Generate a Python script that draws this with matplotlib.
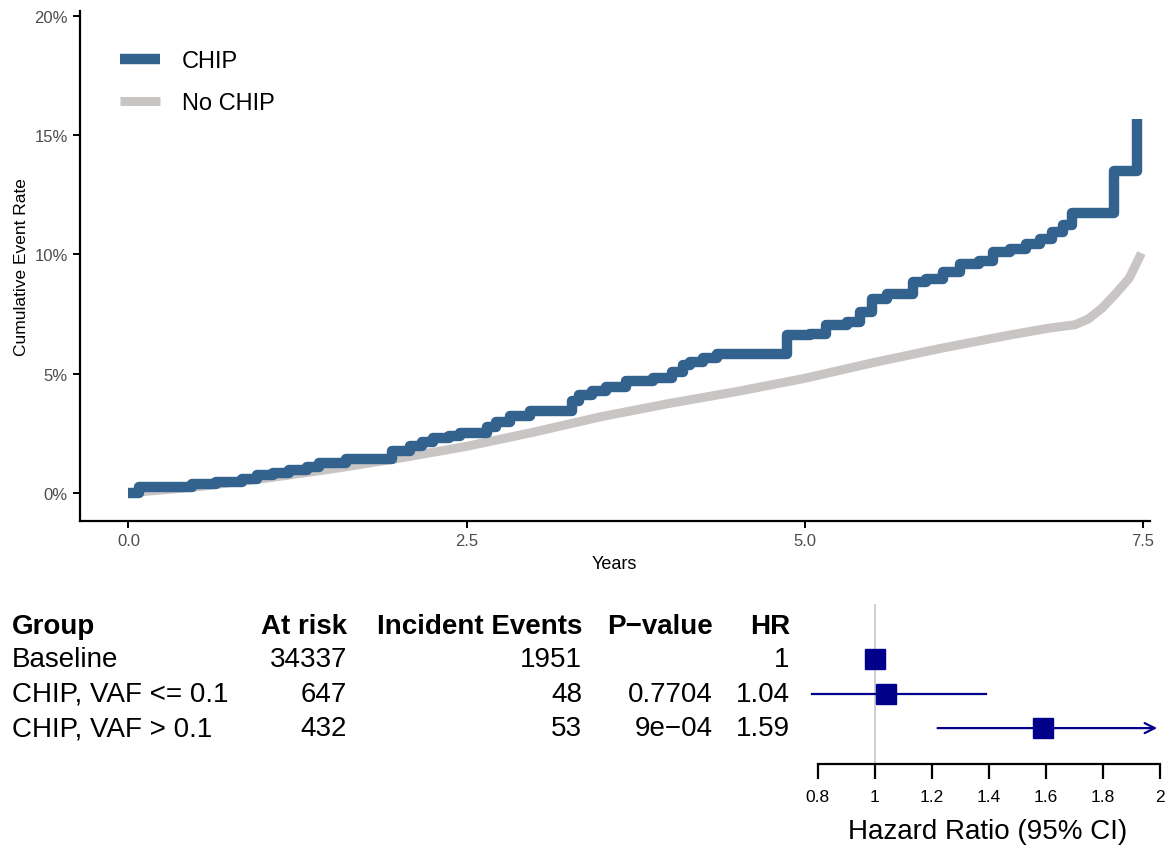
import numpy as np
import matplotlib
matplotlib.use("Agg")
import matplotlib.pyplot as plt
from matplotlib.ticker import FuncFormatter

plt.rcParams["font.family"] = ["Liberation Sans", "DejaVu Sans"]

# Kaplan-Meier Kurven
chip_years = [0.0, 0.08, 0.47, 0.65, 0.84, 0.95, 1.07, 1.19, 1.32, 1.41, 1.61, 1.95, 2.08, 2.17, 2.25, 2.37,
              2.45, 2.65, 2.72, 2.82, 2.97, 3.28, 3.33, 3.43, 3.53, 3.68, 3.88, 4.02, 4.10, 4.15, 4.25,
              4.35, 4.87, 5.04, 5.16, 5.31, 5.41, 5.50, 5.61, 5.80, 5.90, 6.02, 6.15, 6.29, 6.39, 6.52,
              6.64, 6.74, 6.83, 6.91, 6.98, 7.29, 7.455]
chip_pct = [0.0, 0.25, 0.38, 0.47, 0.59, 0.73, 0.84, 0.94, 1.09, 1.26, 1.43, 1.77, 1.95, 2.13, 2.29, 2.40,
            2.52, 2.75, 2.99, 3.22, 3.45, 3.85, 4.12, 4.29, 4.43, 4.71, 4.82, 5.06, 5.34, 5.48, 5.65,
            5.83, 6.60, 6.67, 7.02, 7.16, 7.58, 8.13, 8.34, 8.83, 8.97, 9.25, 9.60, 9.74, 10.09, 10.23,
            10.44, 10.65, 10.93, 11.21, 11.75, 13.50, 15.68]

nochip_years = [0.0, 0.5, 1.0, 1.5, 2.0, 2.5, 3.0, 3.5, 4.0, 4.5, 5.0, 5.5, 6.0, 6.5, 6.8, 7.0, 7.1, 7.2,
                7.3, 7.4, 7.49]
nochip_pct = [0.0, 0.25, 0.6, 1.0, 1.45, 1.95, 2.55, 3.2, 3.75, 4.25, 4.8, 5.45, 6.05, 6.6, 6.9, 7.05,
              7.3, 7.75, 8.35, 9.0, 10.05]

# Tabelle / Forest Plot
groups = ["Baseline", "CHIP, VAF <= 0.1", "CHIP, VAF > 0.1"]
at_risk = ["34337", "647", "432"]
events = ["1951", "48", "53"]
pvals = ["", "0.7704", "9e\u221204"]
hr = [1.0, 1.04, 1.59]
hr_lab = ["1", "1.04", "1.59"]
ci_low = [None, 0.78, 1.21]
ci_high = [None, 1.39, 2.09]

blue = "#33628f"
grey = "#c9c5c5"

fig = plt.figure(figsize=(11.73, 8.54), dpi=100)

# --- KM Plot
ax = fig.add_axes([0.068, 0.389, 0.912, 0.597])
ax.plot(nochip_years, nochip_pct, color=grey, lw=6.5, label="No CHIP", solid_capstyle="butt")
ax.step(chip_years, chip_pct, where="post", color=blue, lw=7.5, label="CHIP",
        solid_joinstyle="round", solid_capstyle="butt")
ax.set_xlim(-0.36, 7.55)
ax.set_ylim(-1.17, 20.2)
ax.set_xticks([0, 2.5, 5.0, 7.5])
ax.set_xticklabels(["0.0", "2.5", "5.0", "7.5"])
ax.set_yticks([0, 5, 10, 15, 20])
ax.yaxis.set_major_formatter(FuncFormatter(lambda v, p: f"{v:.0f}%"))
for s in ["top", "right"]:
    ax.spines[s].set_visible(False)
for s in ["left", "bottom"]:
    ax.spines[s].set_linewidth(1.6)
ax.tick_params(labelsize=12, colors="#4d4d4d", length=5, width=1.4)
ax.tick_params(axis="both", color="black")
ax.set_xlabel("Years", fontsize=13, labelpad=5)
ax.set_ylabel("Cumulative Event Rate", fontsize=12.5, labelpad=4)
h, l = ax.get_legend_handles_labels()
ax.legend([h[1], h[0]], [l[1], l[0]], loc="upper left", bbox_to_anchor=(0.018, 0.965), frameon=False,
          fontsize=17, handlelength=1.7, handletextpad=0.9, labelspacing=0.85)

# --- Tabelle
ylims = (4.04, -0.594)
tab = fig.add_axes([0.0, 0.1042, 0.69, 0.1874])
tab.set_xlim(0, 809.5)
tab.set_ylim(*ylims)
tab.axis("off")
fs = 20
cols = [(12, "left"), (347, "right"), (582, "right"), (713, "right"), (790, "right")]
heads = ["Group", "At risk", "Incident Events", "P\u2212value", "HR"]
for (x, ha), t in zip(cols, heads):
    tab.text(x, 0.05, t, ha=ha, va="center", fontsize=fs, fontweight="bold")
for i in range(len(groups)):
    row = [groups[i], at_risk[i], events[i], pvals[i], hr_lab[i]]
    for (x, ha), t in zip(cols, row):
        tab.text(x, i + 1, t, ha=ha, va="center", fontsize=fs)

# --- Forest Plot
fp = fig.add_axes([0.690, 0.1042, 0.3037, 0.1874])
fp.set_xlim(0.77, 2.02)
fp.set_ylim(*ylims)
fp.axvline(1, color="#cccccc", lw=1.3, zorder=0)
navy = "#00008b"
for i in range(len(groups)):
    y = i + 1
    if ci_low[i] is not None:
        hi = min(ci_high[i], 2.0)
        if ci_high[i] > 2.0:
            fp.annotate("", xy=(2.0, y), xytext=(ci_low[i], y),
                        arrowprops=dict(arrowstyle="->", color=navy, lw=1.6, mutation_scale=18))
        else:
            fp.plot([ci_low[i], hi], [y, y], color=navy, lw=1.6)
    fp.plot(hr[i], y, marker="s", ms=15, color=navy, mec=navy)
for s in ["top", "right", "left"]:
    fp.spines[s].set_visible(False)
fp.spines["bottom"].set_bounds(0.8, 2.0)
fp.spines["bottom"].set_linewidth(1.6)
fp.set_yticks([])
fp.set_xticks([0.8, 1.0, 1.2, 1.4, 1.6, 1.8, 2.0])
fp.set_xticklabels(["0.8", "1", "1.2", "1.4", "1.6", "1.8", "2"])
fp.tick_params(axis="x", labelsize=12.5, length=11, width=1.6, pad=7)
fp.set_xlabel("Hazard Ratio (95% CI)", fontsize=20, labelpad=10)

fig.savefig("out.png", dpi=100)
